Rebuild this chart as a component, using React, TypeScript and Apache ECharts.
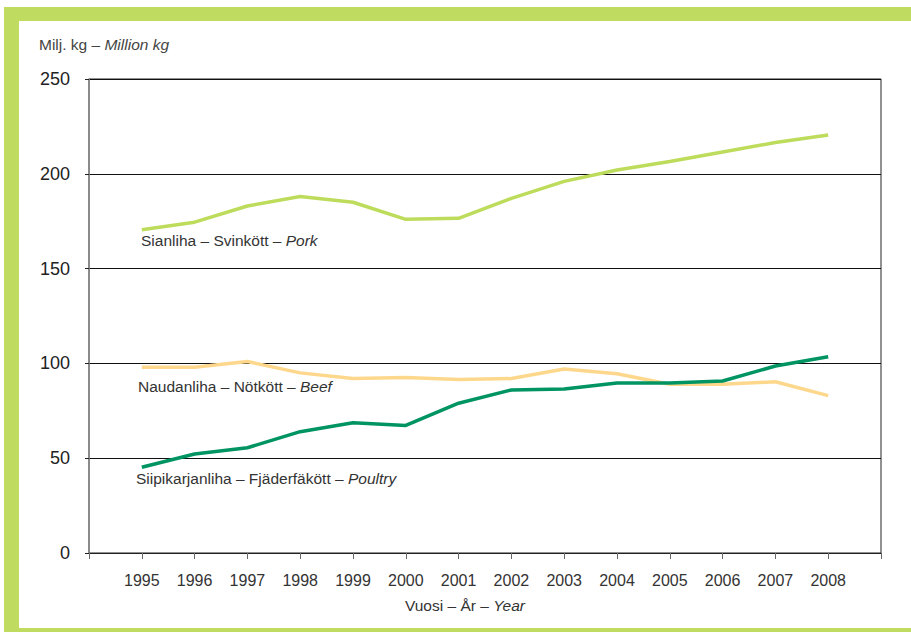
import React, { useEffect, useRef } from "react";
import * as echarts from "echarts";

const years = [1995, 1996, 1997, 1998, 1999, 2000, 2001, 2002, 2003, 2004, 2005, 2006, 2007, 2008];
const pork = [170.5, 174.5, 183, 188, 185, 176, 176.5, 187, 196, 202, 206.5, 211.5, 216.5, 220.5];
const beef = [98, 98, 101, 95, 92, 92.5, 91.5, 92, 97, 94.5, 89, 89, 90.3, 83];
const poultry = [45.2, 52.2, 55.5, 64, 68.7, 67.3, 79, 86, 86.5, 89.7, 89.7, 90.7, 98.6, 103.5];
const yTicks = [0, 50, 100, 150, 200, 250];

const FRAME = "#bfdb60";
const FONT = "'Liberation Sans', Arial, sans-serif";
const TXT = "#333";

const pair = (vals: number[]) => years.map((y, i) => [y, vals[i]]);

export default function App() {
  const ref = useRef<HTMLDivElement>(null);
  useEffect(() => {
    const chart = echarts.init(ref.current!, undefined, { renderer: "svg" });
    const labelText = (x: number, y: number, a: string, b: string) => ({
      type: "text",
      x,
      y,
      style: {
        text: `{a|${a}}{b|${b}}`,
        fill: TXT,
        verticalAlign: "middle",
        rich: {
          a: { fontSize: 15.5, fontFamily: FONT, fill: TXT },
          b: { fontSize: 15.5, fontFamily: FONT, fill: TXT, fontStyle: "italic" },
        },
      },
    });
    chart.setOption({
      animation: false,
      backgroundColor: "#fff",
      grid: {
        left: 89,
        top: 79,
        right: 30,
        bottom: 79,
        show: true,
        borderColor: "#222",
        borderWidth: 1,
      },
      xAxis: {
        type: "value",
        min: 1994,
        max: 2009,
        interval: 1,
        axisLine: { show: true, lineStyle: { color: "#222", width: 1 } },
        axisTick: { show: true, length: 6, lineStyle: { color: "#666" } },
        splitLine: { show: false },
        axisLabel: {
          margin: 19,
          fontSize: 16,
          color: TXT,
          fontFamily: FONT,
          formatter: (v: number) => (years.includes(v) ? String(v) : ""),
        },
      },
      yAxis: {
        type: "value",
        min: 0,
        max: 250,
        interval: 50,
        axisLine: { show: true, lineStyle: { color: "#888", width: 1.5 } },
        axisTick: { show: true, length: 4, lineStyle: { color: "#222" } },
        splitLine: { show: true, lineStyle: { color: "#111", width: 1 } },
        axisLabel: {
          margin: 19,
          fontSize: 18,
          color: "#222",
          fontFamily: FONT,
          formatter: (v: number) => (yTicks.includes(v) ? String(v) : ""),
        },
      },
      series: [
        {
          type: "line",
          name: "Pork",
          data: pair(pork),
          showSymbol: false,
          lineStyle: { color: "#bedc5c", width: 3.5 },
          itemStyle: { color: "#bedc5c" },
        },
        {
          type: "line",
          name: "Beef",
          data: pair(beef),
          showSymbol: false,
          lineStyle: { color: "#fdd88c", width: 3.5 },
          itemStyle: { color: "#fdd88c" },
        },
        {
          type: "line",
          name: "Poultry",
          data: pair(poultry),
          showSymbol: false,
          lineStyle: { color: "#009463", width: 3.5 },
          itemStyle: { color: "#009463" },
        },
      ],
      graphic: [
        { type: "rect", shape: { x: 4, y: 7, width: 907, height: 14 }, style: { fill: FRAME }, silent: true },
        { type: "rect", shape: { x: 4, y: 7, width: 15, height: 625 }, style: { fill: FRAME }, silent: true },
        { type: "rect", shape: { x: 4, y: 628, width: 907, height: 4 }, style: { fill: FRAME }, silent: true },
        {
          type: "text",
          x: 39,
          y: 44,
          style: {
            text: "{a|Milj. kg – }{b|Million kg}",
            verticalAlign: "middle",
            rich: {
              a: { fontSize: 15.5, fontFamily: FONT, fill: "#444" },
              b: { fontSize: 15.5, fontFamily: FONT, fill: "#444", fontStyle: "italic" },
            },
          },
        },
        {
          type: "text",
          x: 465,
          y: 605,
          style: {
            text: "{a|Vuosi – År – }{b|Year}",
            align: "center",
            verticalAlign: "middle",
            rich: {
              a: { fontSize: 15.5, fontFamily: FONT, fill: TXT },
              b: { fontSize: 15.5, fontFamily: FONT, fill: TXT, fontStyle: "italic" },
            },
          },
        },
        labelText(141, 240, "Sianliha – Svinkött – ", "Pork"),
        labelText(138, 386, "Naudanliha – Nötkött – ", "Beef"),
        labelText(136, 478, "Siipikarjanliha – Fjäderfäkött – ", "Poultry"),
      ],
    });
    return () => chart.dispose();
  }, []);
  return (
    <div
      ref={ref}
      style={{ position: "fixed", left: 0, top: 0, width: 911, height: 632 }}
    />
  );
}
